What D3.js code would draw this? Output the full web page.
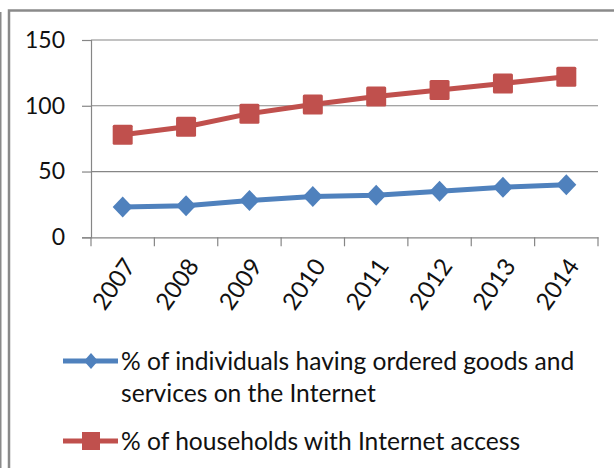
<!DOCTYPE html>
<html><head><meta charset="utf-8">
<script src="https://cdn.jsdelivr.net/npm/d3@7"></script>
<style>
html,body{margin:0;padding:0;background:#fff;}
svg{display:block;font-family:Lato, "Open Sans", sans-serif;}
</style></head>
<body>
<svg id="chart" width="614" height="468"></svg>
<script>
const years = ["2007","2008","2009","2010","2011","2012","2013","2014"];
const individuals = [23, 24, 28, 31, 32, 35, 38, 40];
const households = [78, 84, 94, 101, 107, 112, 117, 122];
const yTicks = [0, 50, 100, 150];
const seriesNames = ["% of individuals having ordered goods and services on the Internet",
                     "% of households with Internet access"];
const legendLines = [["% of individuals having ordered goods and", "services on the Internet"],
                     ["% of households with Internet access"]];

const svg = d3.select("#chart");
const W = 614, H = 468;
const plot = {left: 91, right: 598, top: 40, bottom: 237.3};
const gridColor = "#868686";
const fs = 23, legFs = 24.6;

// frames
svg.append("line").attr("x1", 0.75).attr("x2", 0.75).attr("y1", 12).attr("y2", H)
  .attr("stroke", "#8a8a8a").attr("stroke-width", 1.5);
svg.append("path").attr("d", `M9,${H} V10.5 H${W}`).attr("fill", "none")
  .attr("stroke", "#8a8a8a").attr("stroke-width", 2.5);

const x = d3.scaleBand().domain(years).range([plot.left, plot.right]).paddingInner(0).paddingOuter(0);
const y = d3.scaleLinear().domain([0, 150]).range([plot.bottom, plot.top]);
const cx = d => x(d) + x.bandwidth() / 2;

// gridlines
svg.append("g").selectAll("line").data(yTicks.filter(v => v > 0)).join("line")
  .attr("x1", plot.left).attr("x2", plot.right)
  .attr("y1", d => y(d)).attr("y2", d => y(d))
  .attr("stroke", gridColor).attr("stroke-width", 1.2);

// y axis
const yAxis = svg.append("g").attr("transform", `translate(${plot.left},0)`)
  .call(d3.axisLeft(y).tickValues(yTicks).tickSize(9).tickPadding(17).tickFormat(d3.format("d")));
yAxis.select(".domain").attr("stroke", gridColor).attr("stroke-width", 1.2);
yAxis.selectAll(".tick line").attr("stroke", gridColor).attr("stroke-width", 1.2);
yAxis.selectAll("text").attr("font-size", fs).attr("fill", "#111").attr("font-family", "Lato");

// x axis
const xAxis = svg.append("g").attr("transform", `translate(0,${plot.bottom})`)
  .call(d3.axisBottom(x).tickSize(0).tickFormat(d => d));
xAxis.select(".domain").attr("stroke", gridColor).attr("stroke-width", 1.2);
const bounds = years.map(d => x(d)).concat([plot.right]);
xAxis.selectAll("line.bnd").data(bounds).join("line").attr("class", "bnd")
  .attr("x1", d => d).attr("x2", d => d).attr("y1", 0).attr("y2", 9)
  .attr("stroke", gridColor).attr("stroke-width", 1.2);
xAxis.selectAll(".tick text")
  .attr("font-size", 24).attr("fill", "#111").attr("font-family", "Lato")
  .attr("text-anchor", "end")
  .attr("dy", "0.35em")
  .attr("transform", "translate(7,24) rotate(-55)")
  .attr("y", 0).attr("x", 0);

// lines
const line = d3.line().x(d => cx(d[0])).y(d => y(d[1]));
const blue = "#4F81BD", red = "#C0504D";
const series = [
  {name: seriesNames[0], values: individuals, color: blue, shape: "diamond"},
  {name: seriesNames[1], values: households, color: red, shape: "square"}
];
series.forEach(s => {
  const pts = years.map((yr, i) => [yr, s.values[i]]);
  svg.append("path").attr("d", line(pts)).attr("fill", "none")
    .attr("stroke", s.color).attr("stroke-width", 5).attr("stroke-linejoin", "round");
  const g = svg.append("g");
  if (s.shape === "square") {
    g.selectAll("rect").data(pts).join("rect")
      .attr("x", d => cx(d[0]) - 10).attr("y", d => y(d[1]) - 10)
      .attr("width", 20).attr("height", 20).attr("rx", 1.5)
      .attr("fill", s.color);
  } else {
    g.selectAll("path").data(pts).join("path")
      .attr("d", d => { const px = cx(d[0]), py = y(d[1]);
        return `M${px},${py-10.5} L${px+10},${py} L${px},${py+10.5} L${px-10},${py} Z`; })
      .attr("fill", s.color);
  }
});

// legend
const legend = svg.append("g");
const legY = [361, 441];
series.forEach((s, i) => {
  const ly = legY[i];
  legend.append("line").attr("x1", 63).attr("x2", 118).attr("y1", ly).attr("y2", ly)
    .attr("stroke", s.color).attr("stroke-width", 5);
  if (s.shape === "square") {
    legend.append("rect").attr("x", 91 - 9).attr("y", ly - 9).attr("width", 18).attr("height", 18)
      .attr("fill", s.color);
  } else {
    legend.append("path").attr("d", `M91,${ly-8} L98,${ly} L91,${ly+8} L84,${ly} Z`).attr("fill", s.color);
  }
  const t = legend.append("text").attr("x", 121).attr("y", ly).attr("font-size", legFs)
    .attr("fill", "#111").attr("font-family", "Lato");
  legendLines[i].forEach((ln, j) => {
    t.append("tspan").attr("x", 121).attr("dy", j === 0 ? "0.35em" : "1.3em").text(ln);
  });
});
</script>
</body></html>
